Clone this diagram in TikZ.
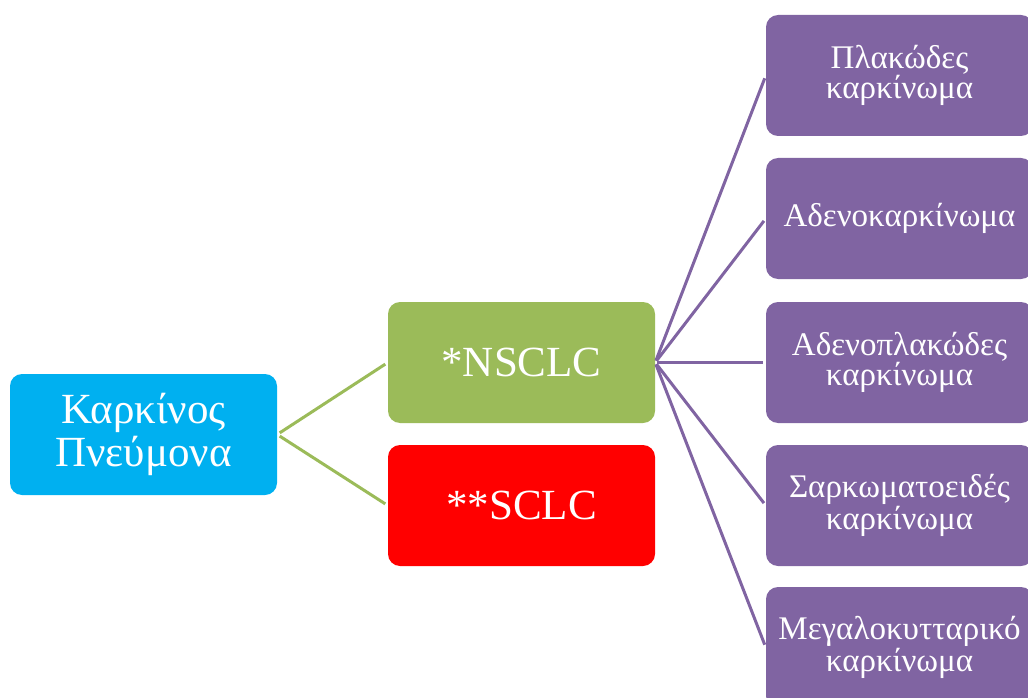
\documentclass[tikz,border=0pt]{standalone}
\usepackage{fontspec}
\setmainfont{Liberation Serif}
\definecolor{cblue}{HTML}{00B0F0}
\definecolor{cgreen}{HTML}{9BBB59}
\definecolor{cred}{HTML}{FF0000}
\definecolor{cpurple}{HTML}{8064A2}
\tikzset{
  box/.style={rounded corners=12pt, minimum width=267pt, minimum height=121pt, inner sep=0pt, align=center, text=white},
  bigtxt/.style={font=\fontsize{43}{43}\selectfont},
  smalltxt/.style={font=\fontsize{33}{29}\selectfont},
  gline/.style={cgreen, line width=3pt, shorten <=3pt, shorten >=3pt},
  pline/.style={cpurple, line width=3pt, shorten <=2pt, shorten >=3pt}
}
\begin{document}
\begin{tikzpicture}[x=1pt,y=-1pt]
\useasboundingbox (0,0) rectangle (1028,698);
\clip (0,0) rectangle (1028,698);
\node[box, bigtxt, fill=cblue] (root) at (143.5,434.5) {Καρκίνος\\Πνεύμονα};
\node[box, bigtxt, fill=cgreen] (nsclc) at (521.5,362.5) {*NSCLC};
\node[box, bigtxt, fill=cred] (sclc) at (521.5,505.5) {**SCLC};
\node[box, smalltxt, fill=cpurple] (p1) at (899.5,75.5) {Πλακώδες\\καρκίνωμα};
\node[box, smalltxt, fill=cpurple] (p2) at (899.5,218.5) {Αδενοκαρκίνωμα};
\node[box, smalltxt, fill=cpurple] (p3) at (899.5,362.5) {Αδενοπλακώδες\\καρκίνωμα};
\node[box, smalltxt, fill=cpurple] (p4) at (899.5,505.5) {Σαρκωματοειδές\\καρκίνωμα};
\node[box, smalltxt, fill=cpurple] (p5) at (899.5,647.5) {Μεγαλοκυτταρικό\\καρκίνωμα};
\draw[gline] (root.east) -- (nsclc.west);
\draw[gline] (root.east) -- (sclc.west);
\foreach \p in {p1,p2,p3,p4,p5} {
  \draw[pline] (nsclc.east) -- (\p.west);
}
\end{tikzpicture}
\end{document}
